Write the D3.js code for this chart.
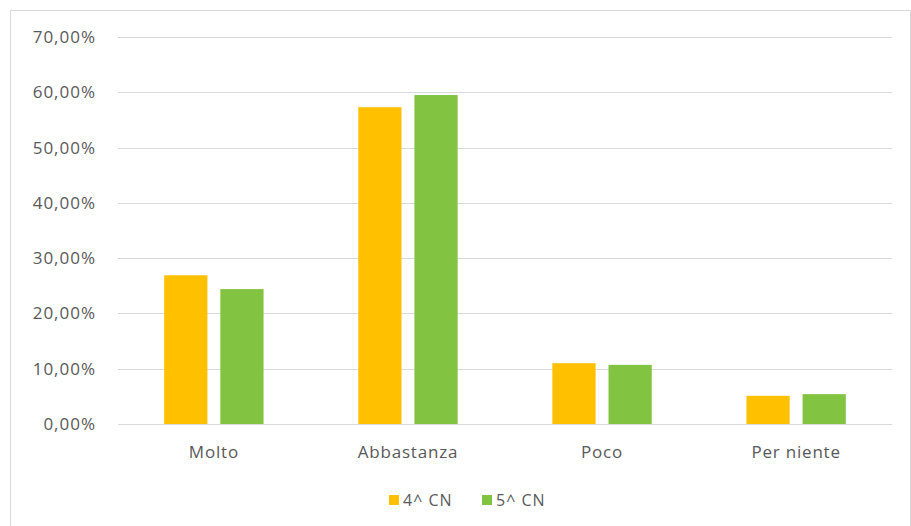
<!DOCTYPE html>
<html>
<head>
<meta charset="utf-8">
<script src="https://cdn.jsdelivr.net/npm/d3@7"></script>
<style>
  body { margin: 0; background: #fff; }
  text { font-family: "Open Sans", "DejaVu Sans", sans-serif; fill: #595959; }
</style>
</head>
<body>
<div id="chart"></div>
<script>
// Data
var categories = ["Molto", "Abbastanza", "Poco", "Per niente"];
var seriesNames = ["4^ CN", "5^ CN"];
var values4 = [26.9, 57.3, 11.0, 5.1];
var values5 = [24.4, 59.5, 10.7, 5.4];
var yTicks = [0, 10, 20, 30, 40, 50, 60, 70];
var colors = ["#ffc000", "#82c341"];

var width = 911, height = 526;
var margin = {top: 37, left: 118, right: 19, bottom: 102};

var svg = d3.select("#chart").append("svg")
  .attr("width", width)
  .attr("height", height);

// outer chart frame
svg.append("rect")
  .attr("x", 10.5).attr("y", 10.5)
  .attr("width", 900).attr("height", 520)
  .attr("fill", "none")
  .attr("stroke", "#d9d9d9");

var x = d3.scaleBand()
  .domain(categories)
  .range([margin.left, width - margin.right])
  .paddingInner(0.488)
  .paddingOuter(0.238);

var xInner = d3.scaleBand()
  .domain(seriesNames)
  .range([0, x.bandwidth()])
  .paddingInner(0.23);

var y = d3.scaleLinear()
  .domain([0, 70])
  .range([height - margin.bottom, margin.top]);

// gridlines
svg.append("g")
  .selectAll("line")
  .data(yTicks)
  .enter().append("line")
  .attr("x1", margin.left)
  .attr("x2", width - margin.right)
  .attr("y1", function(d) { return Math.round(y(d)) + 0.5; })
  .attr("y2", function(d) { return Math.round(y(d)) + 0.5; })
  .attr("stroke", "#d9d9d9")
  .attr("stroke-width", 1.2);

// y axis labels
var fmt = function(d) { return d.toFixed(2).replace(".", ",") + "%"; };
svg.append("g")
  .selectAll("text")
  .data(yTicks)
  .enter().append("text")
  .attr("x", 96)
  .attr("y", function(d) { return y(d); })
  .attr("dy", "0.35em")
  .attr("text-anchor", "end")
  .style("font-size", "17px")
  .style("letter-spacing", "1px")
  .text(fmt);

// bars
var rows = categories.map(function(c, i) {
  return {cat: c, vals: [values4[i], values5[i]]};
});

var groups = svg.append("g")
  .selectAll("g")
  .data(rows)
  .enter().append("g")
  .attr("transform", function(d) { return "translate(" + x(d.cat) + ",0)"; });

groups.selectAll("rect")
  .data(function(d) {
    return d.vals.map(function(v, j) { return {name: seriesNames[j], v: v, j: j}; });
  })
  .enter().append("rect")
  .attr("x", function(d) { return xInner(d.name); })
  .attr("y", function(d) { return y(d.v); })
  .attr("width", xInner.bandwidth())
  .attr("height", function(d) { return y(0) - y(d.v); })
  .attr("fill", function(d) { return colors[d.j]; });

// category labels
svg.append("g")
  .selectAll("text")
  .data(categories)
  .enter().append("text")
  .attr("x", function(d) { return x(d) + x.bandwidth() / 2; })
  .attr("y", 452)
  .attr("dy", "0.35em")
  .attr("text-anchor", "middle")
  .style("font-size", "17px")
  .style("letter-spacing", "0.8px")
  .text(function(d) { return d; });

// legend
var legendX = [389, 482];
var legend = svg.append("g")
  .selectAll("g")
  .data(seriesNames)
  .enter().append("g")
  .attr("transform", function(d, i) { return "translate(" + legendX[i] + ",500)"; });

legend.append("rect")
  .attr("x", 0).attr("y", -5)
  .attr("width", 10).attr("height", 10)
  .attr("fill", function(d, i) { return colors[i]; });

legend.append("text")
  .attr("x", 14)
  .attr("dy", "0.35em")
  .style("font-size", "16px")
  .style("letter-spacing", "1px")
  .text(function(d) { return d; });
</script>
</body>
</html>
